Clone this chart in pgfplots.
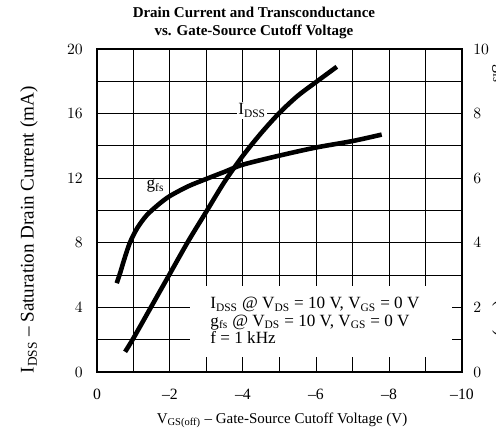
\documentclass[border=0pt]{standalone}
\usepackage{pgfplots}
\pgfplotsset{compat=1.18}
\usepackage{fontspec}
\setmainfont{Liberation Serif}

\begin{document}
\begin{tikzpicture}[font=\fontsize{10.5}{12}\selectfont]
\begin{axis}[
  at={(0,0)}, anchor=south west,
  width=255.5pt, height=226.1pt, scale only axis,
  x dir=reverse, xmin=-10, xmax=0, ymin=0, ymax=20,
  xtick={0,-2,-4,-6,-8,-10},
  xticklabels={0,--2,--4,--6,--8,--10},
  minor xtick={-1,-3,-5,-7,-9},
  ytick={0,4,8,12,16,20},
  minor ytick={2,6,10,14,18},
  grid=both,
  major grid style={black, line width=0.7pt},
  minor grid style={black, line width=0.7pt},
  major tick length=0pt, minor tick length=0pt,
  axis line style={black, line width=1pt},
  tick label style={font=\fontsize{11}{12}\selectfont},
  xticklabel style={anchor=center, yshift=-15.4pt},
  yticklabel style={xshift=-6.5pt},
  title={Drain Current and Transconductance\\vs. Gate-Source Cutoff Voltage},
  title style={at={(axis description cs:0.43,1.053)}, anchor=center, align=center,
    font=\bfseries\fontsize{10.5}{12.6}\selectfont},
  xlabel={V\textsubscript{GS(off)} -- Gate-Source Cutoff Voltage (V)},
  xlabel style={at={(axis description cs:0.507,-0.149)}, anchor=center},
  ylabel={I\textsubscript{DSS} -- Saturation Drain Current (mA)},
  ylabel style={at={(axis description cs:-0.186,0.44)}, anchor=center,
    xscale=0.99, font=\fontsize{13.5}{14}\selectfont},
]
\fill[white] (axis cs:-2.55,0.9) rectangle (axis cs:-9.72,5.3);
\addplot[black, line width=3.2pt, smooth] coordinates {
  (-0.77,1.25) (-1.0,2.1) (-1.5,4.1) (-2.0,6.1) (-2.5,8.1) (-3.0,9.95)
  (-3.5,11.8) (-4.0,13.4) (-4.5,14.8) (-5.0,16.05) (-5.5,17.1) (-6.0,17.95) (-6.57,18.9)
};
\node[fill=white, inner sep=1pt, font=\fontsize{12}{13}\selectfont] at (axis cs:-4.25,16.2) {I\textsubscript{DSS}};
\node[fill=white, inner sep=1pt, font=\fontsize{12}{13}\selectfont] at (axis cs:-1.6,11.5) {g\textsubscript{fs}};
\node[anchor=north west, align=left, inner sep=0pt,
      font=\fontsize{12}{12.2}\selectfont] at (axis cs:-3.1,4.65)
  {I\textsubscript{DSS} @ V\textsubscript{DS} = 10 V, V\textsubscript{GS} = 0 V\\
   g\textsubscript{fs} @ V\textsubscript{DS} = 10 V, V\textsubscript{GS} = 0 V\\
   f = 1 kHz};
\end{axis}
\begin{axis}[
  at={(0,0)}, anchor=south west,
  width=255.5pt, height=226.1pt, scale only axis,
  x dir=reverse, xmin=-10, xmax=0, ymin=0, ymax=10,
  axis y line*=right, axis x line=none,
  ytick={0,2,4,6,8,10},
  major tick length=0pt,
  axis line style={black, line width=1pt},
  tick label style={font=\fontsize{11}{12}\selectfont},
  yticklabel style={xshift=4.4pt},
  ylabel={g\textsubscript{fs} -- Forward Transconductance (mS)},
  ylabel style={at={(axis description cs:1.107,0.53)}, anchor=center, rotate=180,
    xscale=0.93, font=\fontsize{13.5}{14}\selectfont},
]
\addplot[black, line width=3.2pt, smooth] coordinates {
  (-0.54,2.75) (-0.63,3.05) (-0.75,3.5) (-0.9,4.0) (-1.1,4.45) (-1.36,4.85)
  (-1.7,5.2) (-2.0,5.45) (-2.5,5.75) (-3.0,5.98) (-3.5,6.2) (-4.0,6.42)
  (-5.0,6.7) (-6.0,6.95) (-7.0,7.15) (-7.8,7.35)
};
\end{axis}
\pgfresetboundingbox
\useasboundingbox (-67.9pt,-46.9pt) rectangle (279.3pt,260.4pt);
\end{tikzpicture}
\end{document}
